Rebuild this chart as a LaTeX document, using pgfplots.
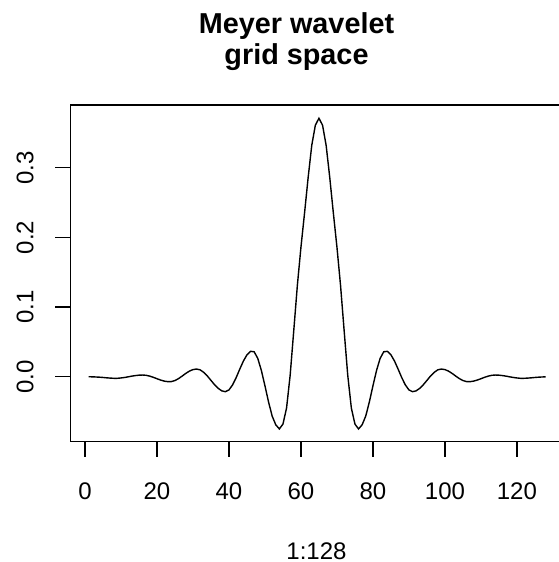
\documentclass[border=0pt]{standalone}
\usepackage{fontspec}
\setmainfont{Liberation Sans}
\usepackage{pgfplots}
\pgfplotsset{compat=1.18}
\begin{document}
\begin{tikzpicture}
\begin{axis}[
  at={(0,0)}, anchor=south west,
  scale only axis,
  width=493.7bp, height=336.7bp,
  xmin=-4.08, xmax=133.08,
  ymin=-0.0933, ymax=0.390,
  axis line style={line width=1.3bp},
  tick style={line width=1.3bp, black},
  tick align=outside,
  major tick length=15bp,
  xtick={0,20,40,60,80,100,120},
  xticklabels={0,20,40,60,80,100,120},
  ytick={0,0.1,0.2,0.3},
  yticklabels={0.0,0.1,0.2,0.3},
  xtick pos=bottom, ytick pos=left,
  tick label style={font=\fontsize{24bp}{28bp}\selectfont},
  xticklabel style={anchor=base, yshift=-43bp},
  yticklabel style={rotate=90, anchor=base},
  yticklabel shift=22bp,
  xlabel={1:128},
  xlabel style={font=\fontsize{24bp}{28bp}\selectfont, at={(axis description cs:0.4987,0)}, anchor=base, yshift=-118bp},
  clip=false,
]
\addplot[black, line width=1.4bp] coordinates {
(1,0.0000) (2,-0.0002) (3,-0.0004) (4,-0.0007) (5,-0.0011) (6,-0.0016) (7,-0.0020) (8,-0.0023)
(9,-0.0023) (10,-0.0018) (11,-0.0011) (12,-0.0002) (13,0.0008) (14,0.0016) (15,0.0022) (16,0.0024)
(17,0.0020) (18,0.0008) (19,-0.0009) (20,-0.0029) (21,-0.0048) (22,-0.0063) (23,-0.0071) (24,-0.0070)
(25,-0.0055) (26,-0.0027) (27,0.0009) (28,0.0047) (29,0.0080) (30,0.0102) (31,0.0110) (32,0.0098)
(33,0.0062) (34,0.0010) (35,-0.0053) (36,-0.0115) (37,-0.0167) (38,-0.0203) (39,-0.0215) (40,-0.0190)
(41,-0.0118) (42,-0.0013) (43,0.0108) (44,0.0224) (45,0.0314) (46,0.0364) (47,0.0358) (48,0.0263)
(49,0.0090) (50,-0.0131) (51,-0.0363) (52,-0.0565) (53,-0.0690) (54,-0.0750) (55,-0.0680) (56,-0.0450)
(57,0.0020) (58,0.0660) (59,0.1310) (60,0.1860) (61,0.2350) (62,0.2860) (63,0.3320) (64,0.3610)
(65,0.3710)
(66,0.3610) (67,0.3320) (68,0.2860) (69,0.2350) (70,0.1860) (71,0.1310) (72,0.0660) (73,0.0020)
(74,-0.0450) (75,-0.0680) (76,-0.0750) (77,-0.0690) (78,-0.0565) (79,-0.0363) (80,-0.0131) (81,0.0090)
(82,0.0263) (83,0.0358) (84,0.0364) (85,0.0314) (86,0.0224) (87,0.0108) (88,-0.0013) (89,-0.0118)
(90,-0.0190) (91,-0.0215) (92,-0.0203) (93,-0.0167) (94,-0.0115) (95,-0.0053) (96,0.0010) (97,0.0062)
(98,0.0098) (99,0.0110) (100,0.0102) (101,0.0080) (102,0.0047) (103,0.0009) (104,-0.0027) (105,-0.0055)
(106,-0.0070) (107,-0.0071) (108,-0.0063) (109,-0.0048) (110,-0.0029) (111,-0.0009) (112,0.0008) (113,0.0020)
(114,0.0024) (115,0.0022) (116,0.0016) (117,0.0008) (118,-0.0002) (119,-0.0011) (120,-0.0018) (121,-0.0023)
(122,-0.0023) (123,-0.0020) (124,-0.0016) (125,-0.0011) (126,-0.0007) (127,-0.0004) (128,-0.0002)
};
\node[anchor=base, inner sep=0pt, font=\bfseries\fontsize{28.8bp}{31bp}\selectfont]
  at (axis description cs:0.4582,1) [yshift=71.7bp] {Meyer wavelet};
\node[anchor=base, inner sep=0pt, font=\bfseries\fontsize{28.8bp}{31bp}\selectfont]
  at (axis description cs:0.4582,1) [yshift=40.7bp] {grid space};
\end{axis}
\pgfresetboundingbox
\path[use as bounding box] (-70.3bp,-120.3bp) rectangle (488.7bp,441.7bp);
\end{tikzpicture}
\end{document}
